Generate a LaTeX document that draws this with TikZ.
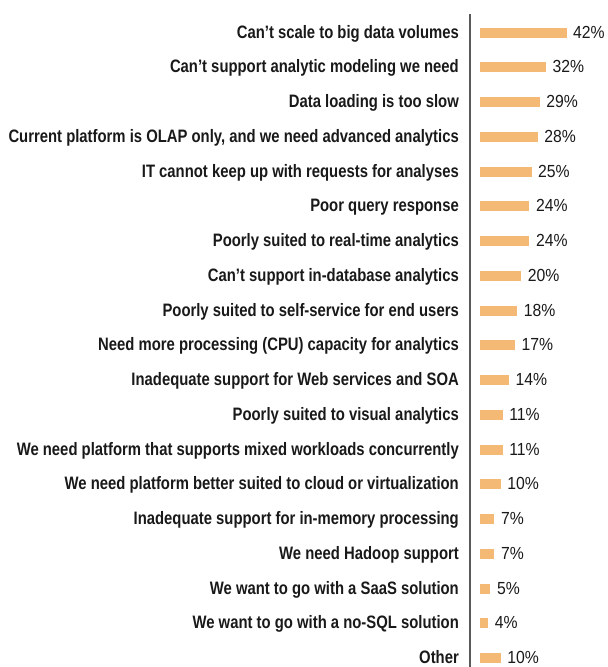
\documentclass[tikz,border=0pt]{standalone}
\usepackage{fontspec}
\setmainfont{Liberation Sans}
\newfontfamily\lblfont[FakeStretch=0.825]{Liberation Sans}
\newfontfamily\pctfont[FakeStretch=0.9]{Liberation Sans}
\usetikzlibrary{calc}
\definecolor{barorange}{RGB}{245,185,118}
\definecolor{axisgray}{RGB}{90,90,90}

\begin{document}
\begin{tikzpicture}[x=1pt, y=1pt]
	\def\dy{34.75}
	\def\yzero{32.5}
	\def\xaxis{470}
	\def\xbar{480}
	\def\sc{2.06}
	\def\bh{10}
	\useasboundingbox (0,0) rectangle (608,-667);
	\coordinate (axtop) at (\xaxis,-13.5);
	\coordinate (axbot) at (\xaxis,-667);
	\draw[axisgray, line width=1.7] (axtop) -- (axbot);
	
	\foreach \lbl/\val [count=\i from 0] in {%
		Can’t scale to big data volumes/42,
		Can’t support analytic modeling we need/32,
		Data loading is too slow/29,
		{Current platform is OLAP only, and we need advanced analytics}/28,
		IT cannot keep up with requests for analyses/25,
		Poor query response/24,
		Poorly suited to real-time analytics/24,
		Can’t support in-database analytics/20,
		Poorly suited to self-service for end users/18,
		Need more processing (CPU) capacity for analytics/17,
		Inadequate support for Web services and SOA/14,
		Poorly suited to visual analytics/11,
		We need platform that supports mixed workloads concurrently/11,
		We need platform better suited to cloud or virtualization/10,
		Inadequate support for in-memory processing/7,
		We need Hadoop support/7,
		We want to go with a SaaS solution/5,
		We want to go with a no-SQL solution/4,
		Other/10} {
		\coordinate (row\i) at (0,{-(\yzero+\i*\dy)});
		\fill[barorange]	($(\xbar,0.5*\bh)+(row\i)$) rectangle ++({\sc*\val},-\bh);
		\node[anchor=base east, inner sep=0, text=black!90, font=\fontsize{18}{20}\selectfont\lblfont\bfseries] (lbl\i) at ($(459,-5.5)+(row\i)$) {\lbl};
		\node[anchor=base west, inner sep=0, text=black!90, font=\fontsize{17.5}{20}\selectfont\pctfont] (pct\i) at ($({\xbar+\sc*\val+6.5},-5.5)+(row\i)$) {\val\%};
	}
\end{tikzpicture}
\end{document}
